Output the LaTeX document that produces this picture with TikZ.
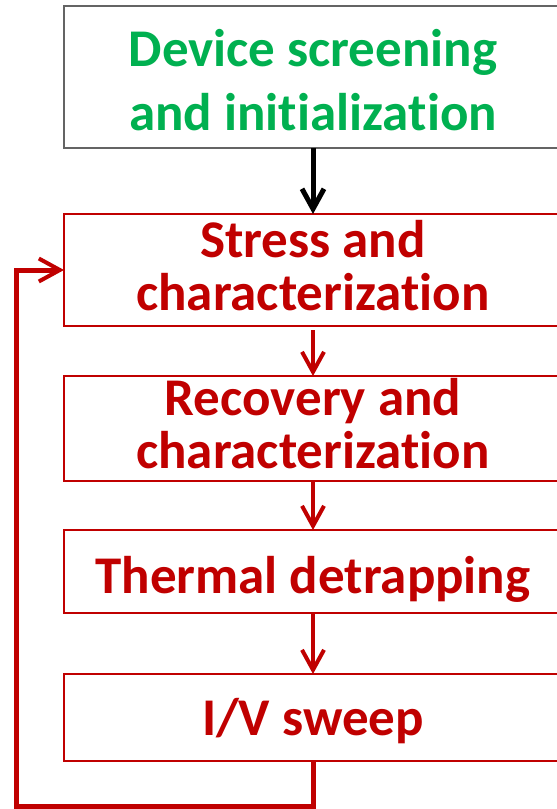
\documentclass[tikz,border=0pt]{standalone}
\usepackage{fontspec}
\setmainfont{Carlito}[Ligatures=NoCommon]
\usetikzlibrary{arrows.meta}
\definecolor{dgreen}{RGB}{0,176,80}
\definecolor{dred}{RGB}{192,0,0}
\definecolor{bgray}{RGB}{100,100,100}
\begin{document}
\begin{tikzpicture}[x=1pt,y=-1pt,
  box/.style={draw=dred, line width=2.4pt, minimum width=498pt, inner sep=0pt, outer sep=0pt},
  lbl/.style={font=\fontsize{53}{53}\selectfont\bfseries, text=dred, align=center, anchor=base, inner sep=0pt},
  flow/.style={draw=dred, line width=4pt, -{Straight Barb[length=20pt,width=22pt]}},
  loopline/.style={draw=dred, line width=5pt, line join=miter, -{Straight Barb[length=21pt,width=23pt,line width=4pt]}}]
\useasboundingbox (0,0) rectangle (557,809);
\node[box, draw=bgray, line width=2.8pt, minimum height=142pt] (b1) at (313,77) {};
\node[box, minimum height=112pt] (b2) at (313,270) {};
\node[box, minimum height=105pt] (b3) at (313,428.5) {};
\node[box, minimum height=83pt] (b4) at (313,571.5) {};
\node[box, minimum height=87pt] (b5) at (313,717.5) {};
\node[lbl, text=dgreen, font=\fontsize{53}{64}\selectfont\bfseries] (t1) at (313,130) {Device screening\\and initialization};
\node[lbl] (t2) at (313,310) {Stress and\\characterization};
\node[lbl] (t3) at (313,468) {Recovery and\\characterization};
\node[lbl] (t4) at (313,593) {Thermal detrapping};
\node[lbl] (t5) at (313,735) {I/V sweep};
\draw[flow, draw=black, line width=5pt] (b1.south) -- (b2.north);
\draw[flow] (b2.south) ++(0,4) -- (b3.north);
\draw[flow] (b3.south) -- (b4.north);
\draw[flow] (b4.south) -- (b5.north);
\coordinate (c1) at (16,806);
\coordinate (c2) at (16,270);
\draw[loopline] (b5.south) -- (b5.south |- c1) -- (c1) -- (c2) -- (b2.west);
\end{tikzpicture}
\end{document}
